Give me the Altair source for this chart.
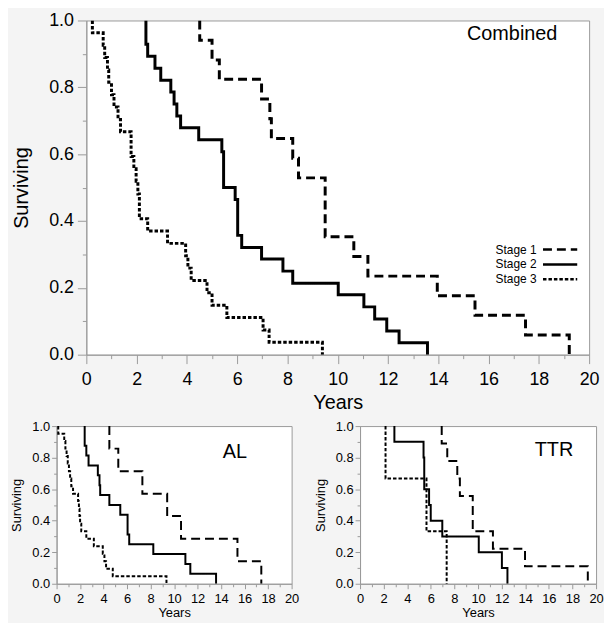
import altair as alt
import pandas as pd

FONT = "Liberation Sans"
stages = ["Stage 1", "Stage 2", "Stage 3"]
x_ticks = [0, 1, 2, 3, 4, 5, 6, 7, 8, 9, 10, 11, 12, 13, 14, 15, 16, 17, 18, 19, 20]
y_ticks = [0.0, 0.1, 0.2, 0.3, 0.4, 0.5, 0.6, 0.7, 0.8, 0.9, 1.0]

# ---- Combined panel: event times (years) and fraction surviving after each event
comb_s1_years = [4.51, 5.00, 5.29, 6.97, 7.30, 7.36, 8.21, 8.44, 9.50, 10.64, 11.20, 13.96, 15.46, 17.47, 19.21]
comb_s1_surv = [0.941, 0.882, 0.824, 0.765, 0.706, 0.647, 0.588, 0.529, 0.353, 0.294, 0.235, 0.176, 0.118, 0.059, 0.0]
comb_s2_years = [2.37, 2.44, 2.73, 2.96, 3.36, 3.49, 3.60, 3.75, 4.47, 5.39, 5.46, 5.92, 6.02, 6.18, 6.97, 7.82,
                 8.21, 10.02, 11.04, 11.47, 11.95, 12.44, 13.57]
comb_s2_surv = [0.929, 0.893, 0.857, 0.821, 0.786, 0.750, 0.714, 0.679, 0.643, 0.607, 0.500, 0.464, 0.357, 0.321,
                0.286, 0.250, 0.214, 0.179, 0.143, 0.107, 0.071, 0.036, 0.0]
comb_s3_years = [0.24, 0.67, 0.73, 0.84, 0.89, 1.00, 1.10, 1.26, 1.36, 1.78, 1.89, 1.98, 2.05, 2.11, 2.44, 3.23,
                 3.95, 4.04, 4.17, 4.80, 5.00, 5.59, 7.03, 7.27, 9.39]
comb_s3_surv = [0.963, 0.926, 0.889, 0.852, 0.815, 0.778, 0.741, 0.704, 0.667, 0.593, 0.556, 0.519, 0.481, 0.407,
                0.370, 0.333, 0.296, 0.259, 0.222, 0.185, 0.148, 0.111, 0.074, 0.037, 0.0]

# ---- AL panel
al_s1_years = [4.49, 5.25, 7.30, 9.41, 10.59, 15.39, 17.42]
al_s1_surv = [0.857, 0.714, 0.571, 0.429, 0.286, 0.143, 0.0]
al_s2_years = [2.39, 2.53, 2.72, 3.51, 3.65, 3.71, 4.49, 5.42, 6.04, 6.18, 8.23, 10.96, 11.38, 13.57]
al_s2_surv = [0.875, 0.813, 0.750, 0.688, 0.625, 0.563, 0.500, 0.438, 0.313, 0.250, 0.188, 0.125, 0.063, 0.0]
al_s3_years = [0.14, 0.65, 0.75, 0.85, 0.95, 1.05, 1.15, 1.25, 1.40, 1.83, 1.90, 1.95, 2.00, 2.10, 2.53, 3.17,
               3.93, 4.07, 4.21, 4.78, 9.35]
al_s3_surv = [0.952, 0.905, 0.857, 0.810, 0.762, 0.714, 0.667, 0.619, 0.571, 0.524, 0.476, 0.429, 0.381, 0.333,
              0.286, 0.238, 0.190, 0.143, 0.095, 0.048, 0.0]

# ---- TTR panel
ttr_s1_years = [6.92, 7.39, 8.24, 8.46, 9.55, 11.26, 13.98, 19.30]
ttr_s1_surv = [0.889, 0.778, 0.667, 0.556, 0.333, 0.222, 0.111, 0.0]
ttr_s2_years = [2.91, 5.38, 5.44, 5.85, 5.99, 6.97, 10.06, 12.02, 12.49]
ttr_s2_surv = [0.9, 0.8, 0.6, 0.5, 0.4, 0.3, 0.2, 0.1, 0.0]
ttr_s3_years = [2.16, 5.63, 7.34]
ttr_s3_surv = [0.667, 0.333, 0.0]


def build(series):
    rows = []
    for stage, years, surv in series:
        rows.append({"stage": stage, "t": years[0], "s": 1.0, "i": 0})
        for j, (t, s) in enumerate(zip(years, surv), start=1):
            rows.append({"stage": stage, "t": t, "s": s, "i": j})
    return pd.DataFrame(rows)


comb_df = build([("Stage 1", comb_s1_years, comb_s1_surv),
                 ("Stage 2", comb_s2_years, comb_s2_surv),
                 ("Stage 3", comb_s3_years, comb_s3_surv)])
al_df = build([("Stage 1", al_s1_years, al_s1_surv),
               ("Stage 2", al_s2_years, al_s2_surv),
               ("Stage 3", al_s3_years, al_s3_surv)])
ttr_df = build([("Stage 1", ttr_s1_years, ttr_s1_surv),
                ("Stage 2", ttr_s2_years, ttr_s2_surv),
                ("Stage 3", ttr_s3_years, ttr_s3_surv)])


def km_chart(df, w, h, sw, dashes, lab_fs, ttl_fs, tmaj, tmin, name, name_fs, name_dx, name_offset,
             legend, ytp, xtp, xlpad, ylpad):
    x = alt.X("t:Q", scale=alt.Scale(domain=[0, 20], nice=False),
              axis=alt.Axis(values=x_ticks,
                            labelExpr="datum.value % 2 === 0 ? datum.label : ''",
                            tickSize={"condition": {"test": "datum.value % 2 === 0", "value": tmaj}, "value": tmin},
                            labelFontSize=lab_fs, titleFontSize=ttl_fs, title="Years",
                            labelFlush=False, labelOverlap=False, labelPadding=xlpad, titlePadding=xtp))
    y = alt.Y("s:Q", scale=alt.Scale(domain=[0, 1], nice=False),
              axis=alt.Axis(values=y_ticks,
                            labelExpr="round(datum.value * 10) % 2 === 0 ? format(datum.value, '.1f') : ''",
                            tickSize={"condition": {"test": "round(datum.value * 10) % 2 === 0", "value": tmaj},
                                      "value": tmin},
                            labelFontSize=lab_fs, titleFontSize=ttl_fs, title="Surviving",
                            labelOverlap=False, labelPadding=ylpad, titlePadding=ytp))
    dash = alt.StrokeDash("stage:N", scale=alt.Scale(domain=stages, range=dashes), legend=legend)
    return alt.Chart(df).mark_line(
        interpolate="step-after", color="black", strokeWidth=sw, strokeCap="butt", clip=True
    ).encode(x=x, y=y, strokeDash=dash, order=alt.Order("i:Q")).properties(
        width=w, height=h,
        title=alt.TitleParams(text=name, anchor="end", frame="group", orient="top", baseline="top",
                              offset=name_offset, dx=name_dx, fontSize=name_fs, fontWeight="normal",
                              font=FONT, color="black"))


main_legend = alt.Legend(orient="none", legendX=489, legendY=222, title=None, symbolType="M-1,0H3.6",
                         symbolSize=225, symbolStrokeWidth=2.5, symbolStrokeColor="black",
                         labelAlign="right", labelOffset=alt.ExprRef(expr="-23"), labelFontSize=12,
                         labelFont=FONT, labelColor="black", padding=0, rowPadding=0)

main = km_chart(comb_df, 507, 337, 3, [[9, 5], [1, 0], [3.5, 2]], 18, 20, 9, 4,
                "Combined", 20, -32, -33, main_legend, 17, 4, 7, 4)
al = km_chart(al_df, 237, 159, 2, [[7, 4], [1, 0], [2.5, 1.5]], 13, 13, 5, 3,
              "AL", 20, -45, -42, None, 8, 1, 4, 2)
ttr = km_chart(ttr_df, 238, 159, 2, [[7, 4], [1, 0], [2.5, 1.5]], 13, 13, 5, 3,
               "TTR", 20, -23, -40, None, 8, 1, 4, 2)

spacer = alt.Chart(pd.DataFrame({"z": [0]})).mark_point(opacity=0).encode(
    x=alt.X("z:Q", axis=None), y=alt.Y("z:Q", axis=None)
).properties(width=30, height=337, view=alt.ViewBackground(stroke="transparent", fill="transparent"))

top_row = alt.hconcat(spacer, main, spacing=0, bounds="flush")
bottom_row = alt.hconcat(al, ttr, spacing=69, bounds="flush")

chart = alt.vconcat(top_row, bottom_row, spacing=6).properties(
    padding={"left": 2, "top": 0, "right": 0, "bottom": 0}
).configure(background="#f4f4f4", font=FONT).configure_view(
    stroke="#9a9a9a", strokeWidth=1, fill="white"
).configure_axis(
    domainColor="#9a9a9a", tickColor="#9a9a9a", labelColor="black", titleColor="black",
    labelFont=FONT, titleFont=FONT, titleFontWeight="normal", grid=False
)

chart.save("out.html", embed_options={"renderer": "svg", "actions": False})
